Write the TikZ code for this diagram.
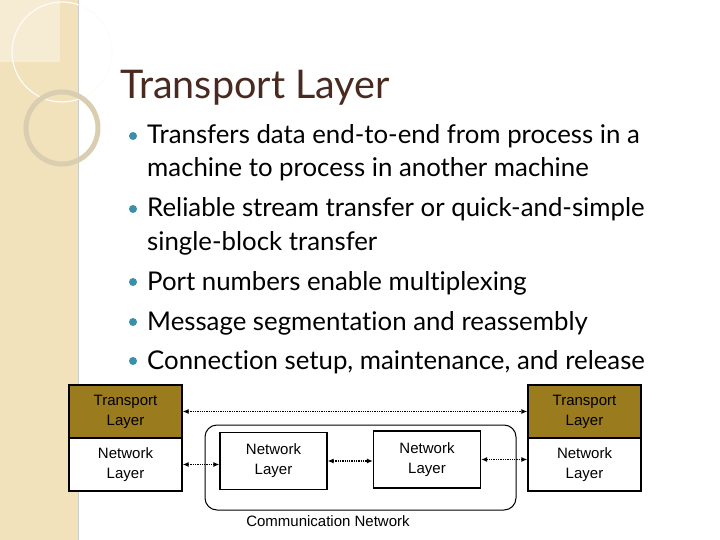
\documentclass[tikz,border=0pt]{standalone}
\usepackage{fontspec}
\setmainfont{Lato}[Ligatures=NoCommon]
\newfontfamily\arialf{Liberation Sans}
\usetikzlibrary{arrows.meta}
\definecolor{beige}{HTML}{F1E2BC}
\definecolor{gold}{HTML}{9A7B1E}
\definecolor{titlec}{HTML}{4A2A20}
\definecolor{bullc}{HTML}{3C8FA8}
\begin{document}
\begin{tikzpicture}[x=1pt,y=-1pt,
  lay/.style={draw=black,line width=1.2pt,minimum width=113pt,minimum height=53pt,inner sep=0pt,align=center,font=\arialf\fontsize{15}{20}\selectfont},
  nb/.style={lay,minimum width=107pt,minimum height=57pt},
  da/.style={densely dotted,line width=1.3pt,{Latex[length=6pt,width=5pt]}-{Latex[length=6pt,width=5pt]}},
  bl/.style={anchor=base west,font=\fontsize{25.8}{28}\selectfont,inner sep=0pt},
  dot/.style={circle,fill=bullc,inner sep=0pt,minimum size=8pt}]
\useasboundingbox (0,0) rectangle (720,540);
\fill[white] (0,0) rectangle (720,540);
\fill[beige] (0,0) rectangle (78,540);
\draw[gray!40,line width=1pt] (78,0) -- (78,540);
\fill[white,opacity=0.35] (0,0) rectangle (60,62);
\draw[white!90!beige,line width=1.2pt] (62,52) circle (50);
\draw[beige!80!gray,line width=5pt] (62,128) circle (36);
\node[anchor=base west,text=titlec,font=\fontsize{39.5}{42}\selectfont,inner sep=0pt] (title) at (120,99) {Transport Layer};
\foreach \y/\t [count=\i] in {144/Transfers data end-to-end from process in a,217/Reliable stream transfer or quick-and-simple,290/Port numbers enable multiplexing,330/Message segmentation and reassembly,369/Connection setup{,} maintenance{,} and release}{
  \node[dot] (d\i) at (133,\y-8) {};
  \node[bl] (b\i) at (147,\y) {\t};}
\node[bl] (c1) at (147,177) {machine to process in another machine};
\node[bl] (c2) at (147,250) {single-block transfer};
\draw[line width=1pt,rounded corners=12pt] (205,425) rectangle (516,510);
\node[lay,fill=gold] (lt) at (125.5,411.5) {Transport\\Layer};
\node[lay,fill=white] (ln) at (125.5,464.5) {Network\\Layer};
\node[lay,fill=gold] (rt) at (584.5,411.5) {Transport\\Layer};
\node[lay,fill=white] (rn) at (584.5,464.5) {Network\\Layer};
\node[nb] (n1) at (273.5,461) {Network\\Layer};
\node[nb] (n2) at (427,459.5) {Network\\Layer};
\node[font=\arialf\fontsize{15}{18}\selectfont] (cn) at (328,521) {Communication Network};
\draw[da] (lt.east) -- (rt.west);
\draw[da] (ln.east) -- (n1.west|-ln.east);
\draw[da] (n1.east) -- (n2.west|-n1.east);
\draw[da] (n2.east) -- (rn.west|-n2.east);
\end{tikzpicture}
\end{document}
